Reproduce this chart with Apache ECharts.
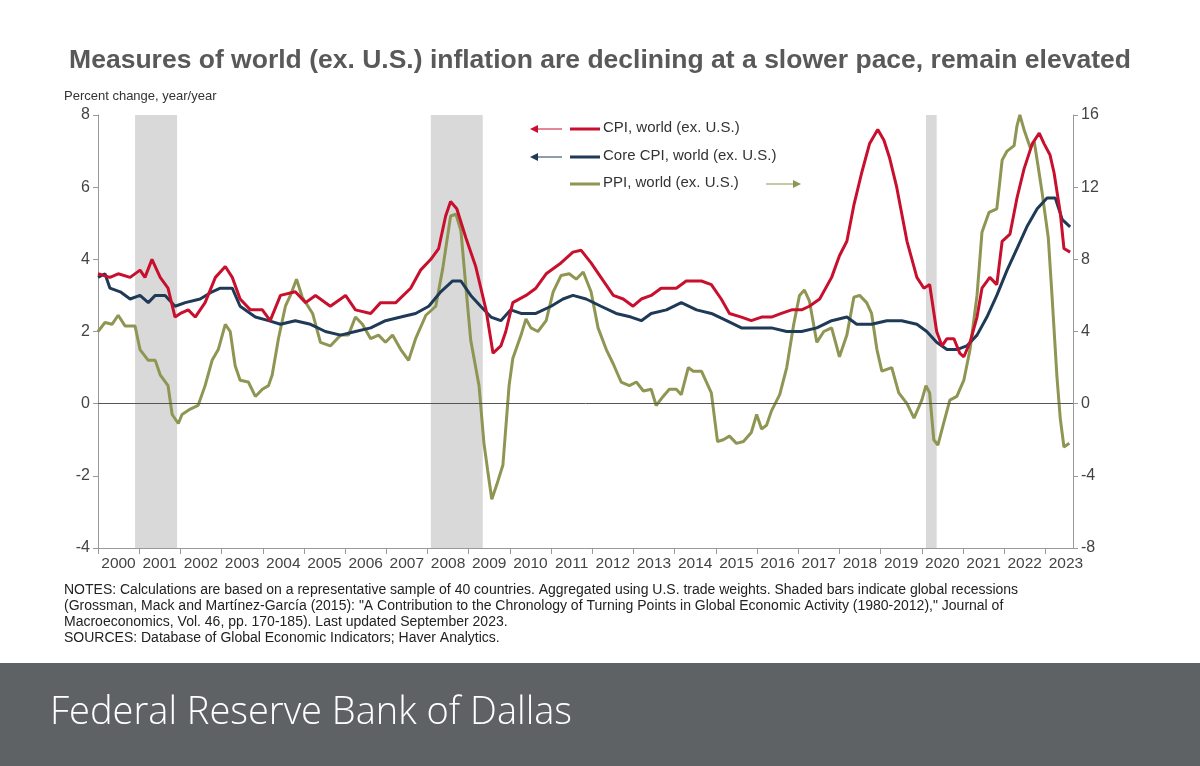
<!DOCTYPE html>
<html>
<head>
<meta charset="utf-8">
<script src="https://cdn.jsdelivr.net/npm/echarts@6/dist/echarts.min.js"></script>
<style>
  html, body { margin: 0; padding: 0; background: #fff; }
  #chart { width: 1200px; height: 766px; }
</style>
</head>
<body>
<div id="chart"></div>
<script>
// dates are decimal years, values in percent
const cpi = [
  [2000.00,3.6],[2000.29,3.5],[2000.49,3.6],[2000.78,3.5],[2001.02,3.7],[2001.14,3.5],[2001.31,4.0],[2001.51,3.5],
  [2001.70,3.2],[2001.87,2.4],[2002.00,2.5],[2002.19,2.6],[2002.36,2.4],[2002.60,2.8],[2002.85,3.5],[2003.09,3.8],
  [2003.26,3.5],[2003.45,2.9],[2003.70,2.6],[2003.99,2.6],[2004.18,2.3],[2004.43,3.0],[2004.79,3.1],[2005.04,2.8],
  [2005.28,3.0],[2005.64,2.7],[2006.01,3.0],[2006.25,2.6],[2006.62,2.5],[2006.86,2.8],[2007.23,2.8],[2007.59,3.2],
  [2007.83,3.7],[2008.08,4.0],[2008.27,4.3],[2008.44,5.2],[2008.56,5.6],[2008.71,5.4],[2008.93,4.6],[2009.17,3.8],
  [2009.42,2.6],[2009.59,1.4],[2009.78,1.6],[2009.90,2.0],[2010.07,2.8],[2010.39,3.0],[2010.63,3.2],[2010.88,3.6],
  [2011.24,3.9],[2011.53,4.2],[2011.73,4.25],[2011.97,3.9],[2012.21,3.5],[2012.51,3.0],[2012.75,2.9],[2012.99,2.7],
  [2013.19,2.9],[2013.43,3.0],[2013.67,3.2],[2014.04,3.2],[2014.28,3.4],[2014.65,3.4],[2014.89,3.3],[2015.13,2.9],
  [2015.33,2.5],[2015.62,2.4],[2015.86,2.3],[2016.11,2.4],[2016.35,2.4],[2016.59,2.5],[2016.84,2.6],[2017.08,2.6],
  [2017.27,2.7],[2017.52,2.9],[2017.81,3.5],[2018.00,4.1],[2018.18,4.5],[2018.35,5.5],[2018.54,6.4],[2018.73,7.2],
  [2018.93,7.6],[2019.08,7.3],[2019.22,6.8],[2019.39,6.0],[2019.64,4.5],[2019.88,3.5],[2020.05,3.2],[2020.19,3.3],
  [2020.36,2.0],[2020.49,1.6],[2020.61,1.8],[2020.78,1.8],[2020.92,1.4],[2021.02,1.3],[2021.17,1.7],[2021.34,2.4],
  [2021.46,3.2],[2021.65,3.5],[2021.82,3.3],[2021.95,4.5],[2022.14,4.7],[2022.31,5.7],[2022.48,6.5],[2022.68,7.2],
  [2022.85,7.5],[2022.97,7.2],[2023.11,6.9],[2023.21,6.4],[2023.36,5.3],[2023.45,4.3],[2023.60,4.2]
];
const coreCpi = [
  [2000.00,3.5],[2000.17,3.6],[2000.29,3.2],[2000.54,3.1],[2000.78,2.9],[2001.02,3.0],[2001.22,2.8],[2001.39,3.0],
  [2001.63,3.0],[2001.87,2.7],[2002.12,2.8],[2002.48,2.9],[2002.77,3.1],[2002.97,3.2],[2003.26,3.2],[2003.45,2.7],
  [2003.82,2.4],[2004.14,2.3],[2004.43,2.2],[2004.79,2.3],[2005.16,2.2],[2005.52,2.0],[2005.89,1.9],[2006.25,2.0],
  [2006.62,2.1],[2006.98,2.3],[2007.35,2.4],[2007.71,2.5],[2008.03,2.7],[2008.32,3.1],[2008.61,3.4],[2008.81,3.4],
  [2009.05,3.0],[2009.29,2.7],[2009.54,2.4],[2009.78,2.3],[2010.02,2.6],[2010.27,2.5],[2010.63,2.5],[2011.00,2.7],
  [2011.29,2.9],[2011.53,3.0],[2011.85,2.9],[2012.21,2.7],[2012.58,2.5],[2012.94,2.4],[2013.19,2.3],[2013.43,2.5],
  [2013.80,2.6],[2014.16,2.8],[2014.53,2.6],[2014.89,2.5],[2015.26,2.3],[2015.62,2.1],[2015.99,2.1],[2016.35,2.1],
  [2016.72,2.0],[2017.08,2.0],[2017.45,2.1],[2017.81,2.3],[2018.18,2.4],[2018.42,2.2],[2018.78,2.2],[2019.15,2.3],
  [2019.51,2.3],[2019.88,2.2],[2020.12,2.0],[2020.36,1.7],[2020.61,1.5],[2020.85,1.5],[2021.09,1.6],[2021.34,1.9],
  [2021.58,2.4],[2021.82,3.0],[2022.07,3.7],[2022.31,4.3],[2022.55,4.9],[2022.80,5.4],[2023.04,5.7],[2023.24,5.7],
  [2023.41,5.1],[2023.60,4.9]
];
const ppi = [
  [2000.00,4.0],[2000.17,4.5],[2000.34,4.4],[2000.49,4.9],[2000.66,4.3],[2000.90,4.3],[2001.02,3.0],[2001.22,2.4],
  [2001.39,2.4],[2001.51,1.6],[2001.70,1.0],[2001.80,-0.6],[2001.95,-1.1],[2002.04,-0.6],[2002.24,-0.3],[2002.43,-0.1],
  [2002.60,1.0],[2002.77,2.4],[2002.92,3.0],[2003.09,4.4],[2003.21,4.0],[2003.33,2.1],[2003.45,1.3],[2003.65,1.2],
  [2003.82,0.4],[2003.99,0.8],[2004.14,1.0],[2004.23,1.6],[2004.38,3.6],[2004.55,5.4],[2004.67,6.0],[2004.82,6.9],
  [2004.96,5.9],[2005.21,5.0],[2005.40,3.4],[2005.64,3.2],[2005.89,3.8],[2006.08,3.8],[2006.25,4.8],[2006.42,4.4],
  [2006.62,3.6],[2006.81,3.8],[2006.98,3.4],[2007.15,3.8],[2007.35,3.0],[2007.54,2.4],[2007.71,3.6],[2007.96,4.9],
  [2008.20,5.4],[2008.37,7.5],[2008.56,10.4],[2008.69,10.5],[2008.81,9.6],[2008.93,6.5],[2009.05,3.5],[2009.25,1.0],
  [2009.37,-2.2],[2009.46,-3.7],[2009.56,-5.3],[2009.68,-4.5],[2009.83,-3.4],[2009.98,1.0],[2010.07,2.5],[2010.27,3.8],
  [2010.39,4.7],[2010.51,4.2],[2010.68,4.0],[2010.88,4.6],[2011.05,6.2],[2011.24,7.1],[2011.44,7.2],[2011.61,6.9],
  [2011.78,7.3],[2011.97,6.2],[2012.14,4.2],[2012.34,3.0],[2012.51,2.2],[2012.70,1.2],[2012.90,1.0],[2013.07,1.2],
  [2013.24,0.7],[2013.43,0.8],[2013.55,-0.1],[2013.72,0.4],[2013.87,0.8],[2014.04,0.8],[2014.16,0.5],[2014.33,2.0],
  [2014.45,1.8],[2014.65,1.8],[2014.89,0.6],[2015.04,-2.1],[2015.18,-2.0],[2015.33,-1.8],[2015.50,-2.2],[2015.67,-2.1],
  [2015.86,-1.6],[2015.99,-0.6],[2016.11,-1.4],[2016.23,-1.2],[2016.35,-0.4],[2016.55,0.5],[2016.72,2.0],[2016.89,4.4],
  [2017.03,6.0],[2017.15,6.3],[2017.27,5.7],[2017.45,3.4],[2017.62,4.0],[2017.81,4.2],[2018.00,2.6],[2018.18,3.8],
  [2018.35,5.9],[2018.49,6.0],[2018.66,5.6],[2018.78,5.0],[2018.91,3.0],[2019.03,1.8],[2019.27,2.0],[2019.44,0.6],
  [2019.64,0.0],[2019.81,-0.8],[2020.00,0.2],[2020.10,1.0],[2020.19,0.6],[2020.29,-2.0],[2020.39,-2.3],[2020.54,-1.0],
  [2020.68,0.2],[2020.85,0.4],[2021.02,1.3],[2021.17,3.0],[2021.34,6.0],[2021.46,9.5],[2021.63,10.6],[2021.82,10.8],
  [2021.95,13.5],[2022.07,14.0],[2022.24,14.3],[2022.31,15.4],[2022.38,16.0],[2022.48,15.2],[2022.63,14.2],[2022.73,14.5],
  [2022.82,13.2],[2022.92,11.7],[2023.07,9.2],[2023.16,6.0],[2023.28,1.5],[2023.36,-0.8],[2023.45,-2.4],[2023.58,-2.2]
];
const recessions = [[2000.90, 2001.92], [2008.08, 2009.34], [2020.10, 2020.36]];
const notes = [
  'NOTES: Calculations are based on a representative sample of 40 countries. Aggregated using U.S. trade weights. Shaded bars indicate global recessions',
  '(Grossman, Mack and Martínez-García (2015): "A Contribution to the Chronology of Turning Points in Global Economic Activity (1980-2012)," Journal of',
  'Macroeconomics, Vol. 46, pp. 170-185). Last updated September 2023.',
  'SOURCES: Database of Global Economic Indicators; Haver Analytics.'
];

const RED = '#c8102e', NAVY = '#1f3a57', OLIVE = '#8f9552', GREY = '#595959';
const FONT = '"Liberation Sans", Arial, sans-serif';

function legendItem(y, color, label, arrowLeft) {
  const els = [
    { type: 'line', shape: { x1: 570, y1: y, x2: 600, y2: y }, style: { stroke: color, lineWidth: 3 } },
    { type: 'text', left: 603, top: y - 9, style: { text: label, fill: '#333', font: '15px ' + FONT } }
  ];
  if (arrowLeft) {
    els.push({ type: 'line', shape: { x1: 536, y1: y, x2: 562, y2: y }, style: { stroke: color, lineWidth: 1 } });
    els.push({ type: 'polygon', shape: { points: [[530, y], [538, y - 4], [538, y + 4]] }, style: { fill: color } });
  } else {
    els.push({ type: 'line', shape: { x1: 766, y1: y, x2: 794, y2: y }, style: { stroke: color, lineWidth: 1 } });
    els.push({ type: 'polygon', shape: { points: [[801, y], [793, y - 4], [793, y + 4]] }, style: { fill: color } });
  }
  return els;
}

const chart = echarts.init(document.getElementById('chart'), null, { renderer: 'canvas' });
chart.setOption({
  animation: false,
  textStyle: { fontFamily: FONT },
  title: {
    text: 'Measures of world (ex. U.S.) inflation are declining at a slower pace, remain elevated',
    left: 'center', top: 42,
    textStyle: { fontSize: 26.5, fontWeight: 'bold', color: GREY, fontFamily: FONT }
  },
  grid: { left: 98, right: 127, top: 115, bottom: 218 },
  xAxis: {
    type: 'value', min: 2000, max: 2023.67, interval: 1,
    axisLine: { onZero: false, lineStyle: { color: '#999' } },
    axisTick: { show: true, length: 6, lineStyle: { color: '#999' } },
    splitLine: { show: false },
    axisLabel: {
      color: '#444', fontSize: 15.5, margin: 8, padding: [0, 0, 0, 41],
      showMaxLabel: false, formatter: v => String(v)
    }
  },
  yAxis: [
    {
      type: 'value', min: -4, max: 8, interval: 2,
      axisLine: { show: true, lineStyle: { color: '#999' } },
      axisTick: { show: true, inside: false, lineStyle: { color: '#999' } },
      splitLine: { show: false },
      axisLabel: { color: '#444', fontSize: 16 },
      name: 'Percent change, year/year', nameLocation: 'end', nameGap: 12,
      nameTextStyle: { color: '#333', fontSize: 13, align: 'left', padding: [0, 0, 0, -34] }
    },
    {
      type: 'value', min: -8, max: 16, interval: 4,
      axisLine: { show: true, lineStyle: { color: '#999' } },
      axisTick: { show: true, lineStyle: { color: '#999' } },
      splitLine: { show: false },
      axisLabel: { color: '#444', fontSize: 16 }
    }
  ],
  series: [
    {
      name: 'Core CPI', type: 'line', data: coreCpi, yAxisIndex: 0, showSymbol: false,
      lineStyle: { color: NAVY, width: 3 }, z: 3,
      markArea: {
        silent: true, itemStyle: { color: '#d9d9d9' },
        data: recessions.map(r => [{ xAxis: r[0] }, { xAxis: r[1] }])
      },
      markLine: {
        silent: true, symbol: 'none', label: { show: false },
        lineStyle: { color: '#555', width: 1, type: 'solid' },
        data: [{ yAxis: 0 }]
      }
    },
    { name: 'PPI', type: 'line', data: ppi, yAxisIndex: 1, showSymbol: false, lineStyle: { color: OLIVE, width: 3 }, z: 2 },
    { name: 'CPI', type: 'line', data: cpi, yAxisIndex: 0, showSymbol: false, lineStyle: { color: RED, width: 3 }, z: 4 }
  ],
  graphic: [
    ...legendItem(129, RED, 'CPI, world (ex. U.S.)', true),
    ...legendItem(157, NAVY, 'Core CPI, world (ex. U.S.)', true),
    ...legendItem(184, OLIVE, 'PPI, world (ex. U.S.)', false),
    ...notes.map((t, i) => ({
      type: 'text', left: 64, top: 583 + i * 16,
      style: { text: t, fill: '#222', font: '14px ' + FONT }
    })),
    { type: 'rect', shape: { x: 0, y: 663, width: 1200, height: 103 }, style: { fill: '#5f6264' } },
    { type: 'text', left: 50, top: 694, style: { text: 'Federal Reserve Bank of Dallas', fill: '#fff', font: '300 38px "Open Sans", sans-serif' } }
  ]
});
</script>
</body>
</html>
